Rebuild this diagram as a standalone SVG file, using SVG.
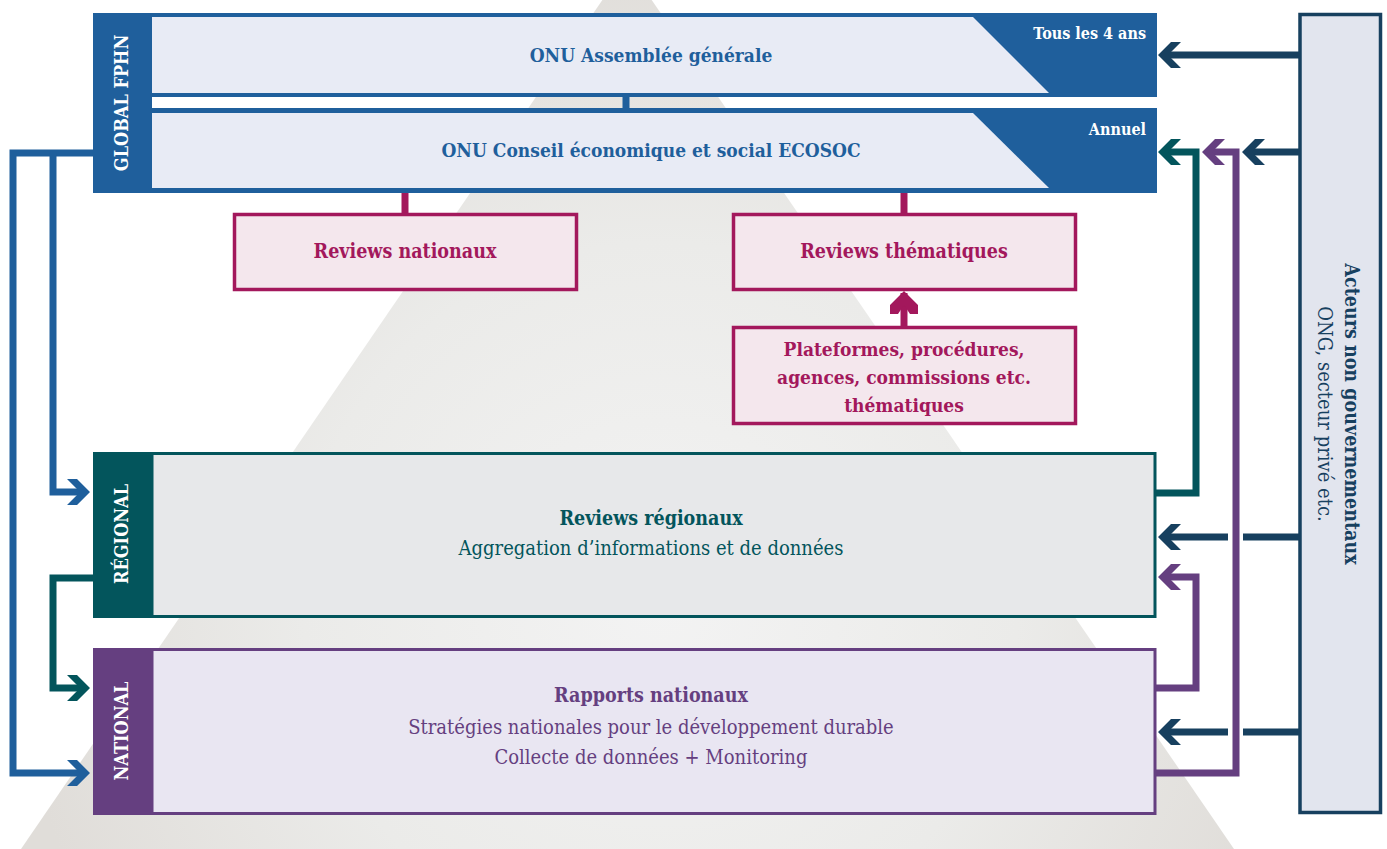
<svg xmlns="http://www.w3.org/2000/svg" width="1387" height="849" viewBox="0 0 1387 849">
<style>
text{font-family:"DejaVu Serif Condensed","DejaVu Serif","Liberation Serif",serif;font-stretch:condensed}
.b{font-weight:bold;font-size:19.5px}
.t20{font-size:20px}
.c{text-anchor:middle}
.band{font-size:18px;font-weight:bold;fill:#ffffff;text-anchor:middle}
.conn{fill:none;stroke-width:7;stroke-linejoin:miter;stroke-linecap:butt}
.navy{stroke:#17405f}.teal{stroke:#03555c}.purple{stroke:#653f80}.blue{stroke:#1f5f9c}.mag{stroke:#a3185c}
</style>
<defs>
<radialGradient id="pyr" gradientUnits="userSpaceOnUse" cx="660" cy="600" r="650">
<stop offset="0" stop-color="#f3f3f3"/>
<stop offset="0.55" stop-color="#ebebe9"/>
<stop offset="1" stop-color="#e0ddd9"/>
</radialGradient>
<marker id="ah-navy" markerUnits="userSpaceOnUse" viewBox="-24 -14 26 28" markerWidth="26" markerHeight="28" refX="-4" refY="0" orient="auto"><path d="M0,0 L-13,-13 L-23,-13 L-10,0 L-23,13 L-13,13 Z" fill="#17405f"/></marker>
<marker id="ah-teal" markerUnits="userSpaceOnUse" viewBox="-24 -14 26 28" markerWidth="26" markerHeight="28" refX="-4" refY="0" orient="auto"><path d="M0,0 L-13,-13 L-23,-13 L-10,0 L-23,13 L-13,13 Z" fill="#03555c"/></marker>
<marker id="ah-purple" markerUnits="userSpaceOnUse" viewBox="-24 -14 26 28" markerWidth="26" markerHeight="28" refX="-4" refY="0" orient="auto"><path d="M0,0 L-13,-13 L-23,-13 L-10,0 L-23,13 L-13,13 Z" fill="#653f80"/></marker>
<marker id="ah-blue" markerUnits="userSpaceOnUse" viewBox="-24 -14 26 28" markerWidth="26" markerHeight="28" refX="-4" refY="0" orient="auto"><path d="M0,0 L-13,-13 L-23,-13 L-10,0 L-23,13 L-13,13 Z" fill="#1f5f9c"/></marker>
<marker id="ah-mag" markerUnits="userSpaceOnUse" viewBox="-24 -15 26 30" markerWidth="26" markerHeight="30" refX="-2" refY="0" orient="auto"><path d="M0,0 L-14,-14 L-23,-14 L-23,-6 L-14,0 L-23,6 L-23,14 L-14,14 Z" fill="#a3185c"/></marker>
</defs>

<rect width="1387" height="849" fill="#ffffff"/>
<g id="background">
<polygon points="627,-36 1234,849 21,849" fill="url(#pyr)"/>
</g>

<g id="global-fphn">
<rect x="93" y="13" width="59" height="180" fill="#1f5f9c"/>
<text class="band" transform="translate(128,103) rotate(-90)">GLOBAL FPHN</text>
</g>

<g id="onu-assemblee">
<rect x="152" y="13" width="1005" height="84" fill="#1f5f9c"/>
<polygon points="152,17 973,17 1049,93 152,93" fill="#e8ebf5"/>
<text class="c" x="651" y="62" font-size="19" font-weight="bold" fill="#1f5f9c">ONU Assemblée générale</text>
<text x="1146" y="39" font-size="16" font-weight="bold" fill="#ffffff" text-anchor="end">Tous les 4 ans</text>
</g>

<g id="onu-ecosoc">
<rect x="152" y="108" width="1005" height="85" fill="#1f5f9c"/>
<polygon points="152,113 973,113 1049,188 152,188" fill="#e8ebf5"/>
<text class="c" x="651" y="157" font-size="19" font-weight="bold" fill="#1f5f9c">ONU Conseil économique et social ECOSOC</text>
<text x="1146" y="135" font-size="16" font-weight="bold" fill="#ffffff" text-anchor="end">Annuel</text>
</g>

<g id="reviews-nationaux">
<rect x="234.5" y="214.5" width="342" height="75" fill="#f4e7ed" stroke="#a3185c" stroke-width="3.5"/>
<text class="b c" x="405" y="258" fill="#a3185c">Reviews nationaux</text>
</g>

<g id="reviews-thematiques">
<rect x="733.5" y="214.5" width="342" height="75" fill="#f4e7ed" stroke="#a3185c" stroke-width="3.5"/>
<text class="b c" x="904" y="258" fill="#a3185c">Reviews thématiques</text>
</g>

<g id="plateformes">
<rect x="733.5" y="327.5" width="342" height="96" fill="#f4e7ed" stroke="#a3185c" stroke-width="3.5"/>
<text class="c" font-size="19" font-weight="bold" fill="#a3185c"><tspan x="904" y="356">Plateformes, procédures,</tspan><tspan x="904" y="384">agences, commissions etc.</tspan><tspan x="904" y="412">thématiques</tspan></text>
</g>

<g id="regional">
<rect x="93" y="452" width="59" height="166" fill="#03555c"/>
<rect x="152" y="453.5" width="1003" height="163" fill="#e7e8ea" stroke="#03555c" stroke-width="3"/>
<text class="band" transform="translate(128,534) rotate(-90)">RÉGIONAL</text>
<text class="b c" x="651" y="525" fill="#03555c">Reviews régionaux</text>
<text class="t20 c" x="651" y="555" fill="#03555c">Aggregation d’informations et de données</text>
</g>

<g id="national">
<rect x="93" y="648" width="59" height="167" fill="#653f80"/>
<rect x="152" y="649.5" width="1003" height="164" fill="#e9e6f2" stroke="#653f80" stroke-width="3"/>
<text class="band" transform="translate(128,731) rotate(-90)">NATIONAL</text>
<text class="b c" x="651" y="702" fill="#653f80">Rapports nationaux</text>
<text class="t20 c" x="651" y="734" fill="#653f80">Stratégies nationales pour le développement durable</text>
<text class="t20 c" x="651" y="764" fill="#653f80">Collecte de données + Monitoring</text>
</g>

<g id="acteurs-non-gouvernementaux">
<rect x="1300" y="14.5" width="80.5" height="798" fill="#e2e5ee" stroke="#17405f" stroke-width="3.5"/>
<text class="b c" transform="translate(1345,414) rotate(90)" fill="#17405f">Acteurs non gouvernementaux</text>
<text class="t20 c" transform="translate(1318,414) rotate(90)" fill="#17405f">ONG, secteur privé etc.</text>
</g>

<g id="connectors">
<path class="conn blue" d="M626,97 V108"/>
<path class="conn mag" stroke-width="8" d="M405,193 V214"/>
<path class="conn mag" stroke-width="8" d="M904,193 V214"/>
<path class="conn mag" d="M904,326 V293" marker-end="url(#ah-mag)"/>

<path class="conn navy" d="M1300,55 H1162" marker-end="url(#ah-navy)"/>
<path class="conn navy" d="M1300,152 H1246" marker-end="url(#ah-navy)"/>
<path class="conn navy" d="M1300,537 H1243"/>
<path class="conn navy" d="M1228,537 H1162" marker-end="url(#ah-navy)"/>
<path class="conn navy" d="M1300,732 H1243"/>
<path class="conn navy" d="M1228,732 H1162" marker-end="url(#ah-navy)"/>

<path class="conn teal" d="M1156,493 H1196 V152 H1162" marker-end="url(#ah-teal)"/>
<path class="conn purple" d="M1156,688 H1196 V577 H1162" marker-end="url(#ah-purple)"/>
<path class="conn purple" d="M1156,773 H1236 V152 H1206" marker-end="url(#ah-purple)"/>

<path class="conn blue" stroke-width="8" d="M93,153 H13 V773 H86" marker-end="url(#ah-blue)"/>
<path class="conn blue" stroke-width="8" d="M53,153 V492 H86" marker-end="url(#ah-blue)"/>
<path class="conn teal" d="M93,578 H53 V688 H86" marker-end="url(#ah-teal)"/>
</g>
</svg>
